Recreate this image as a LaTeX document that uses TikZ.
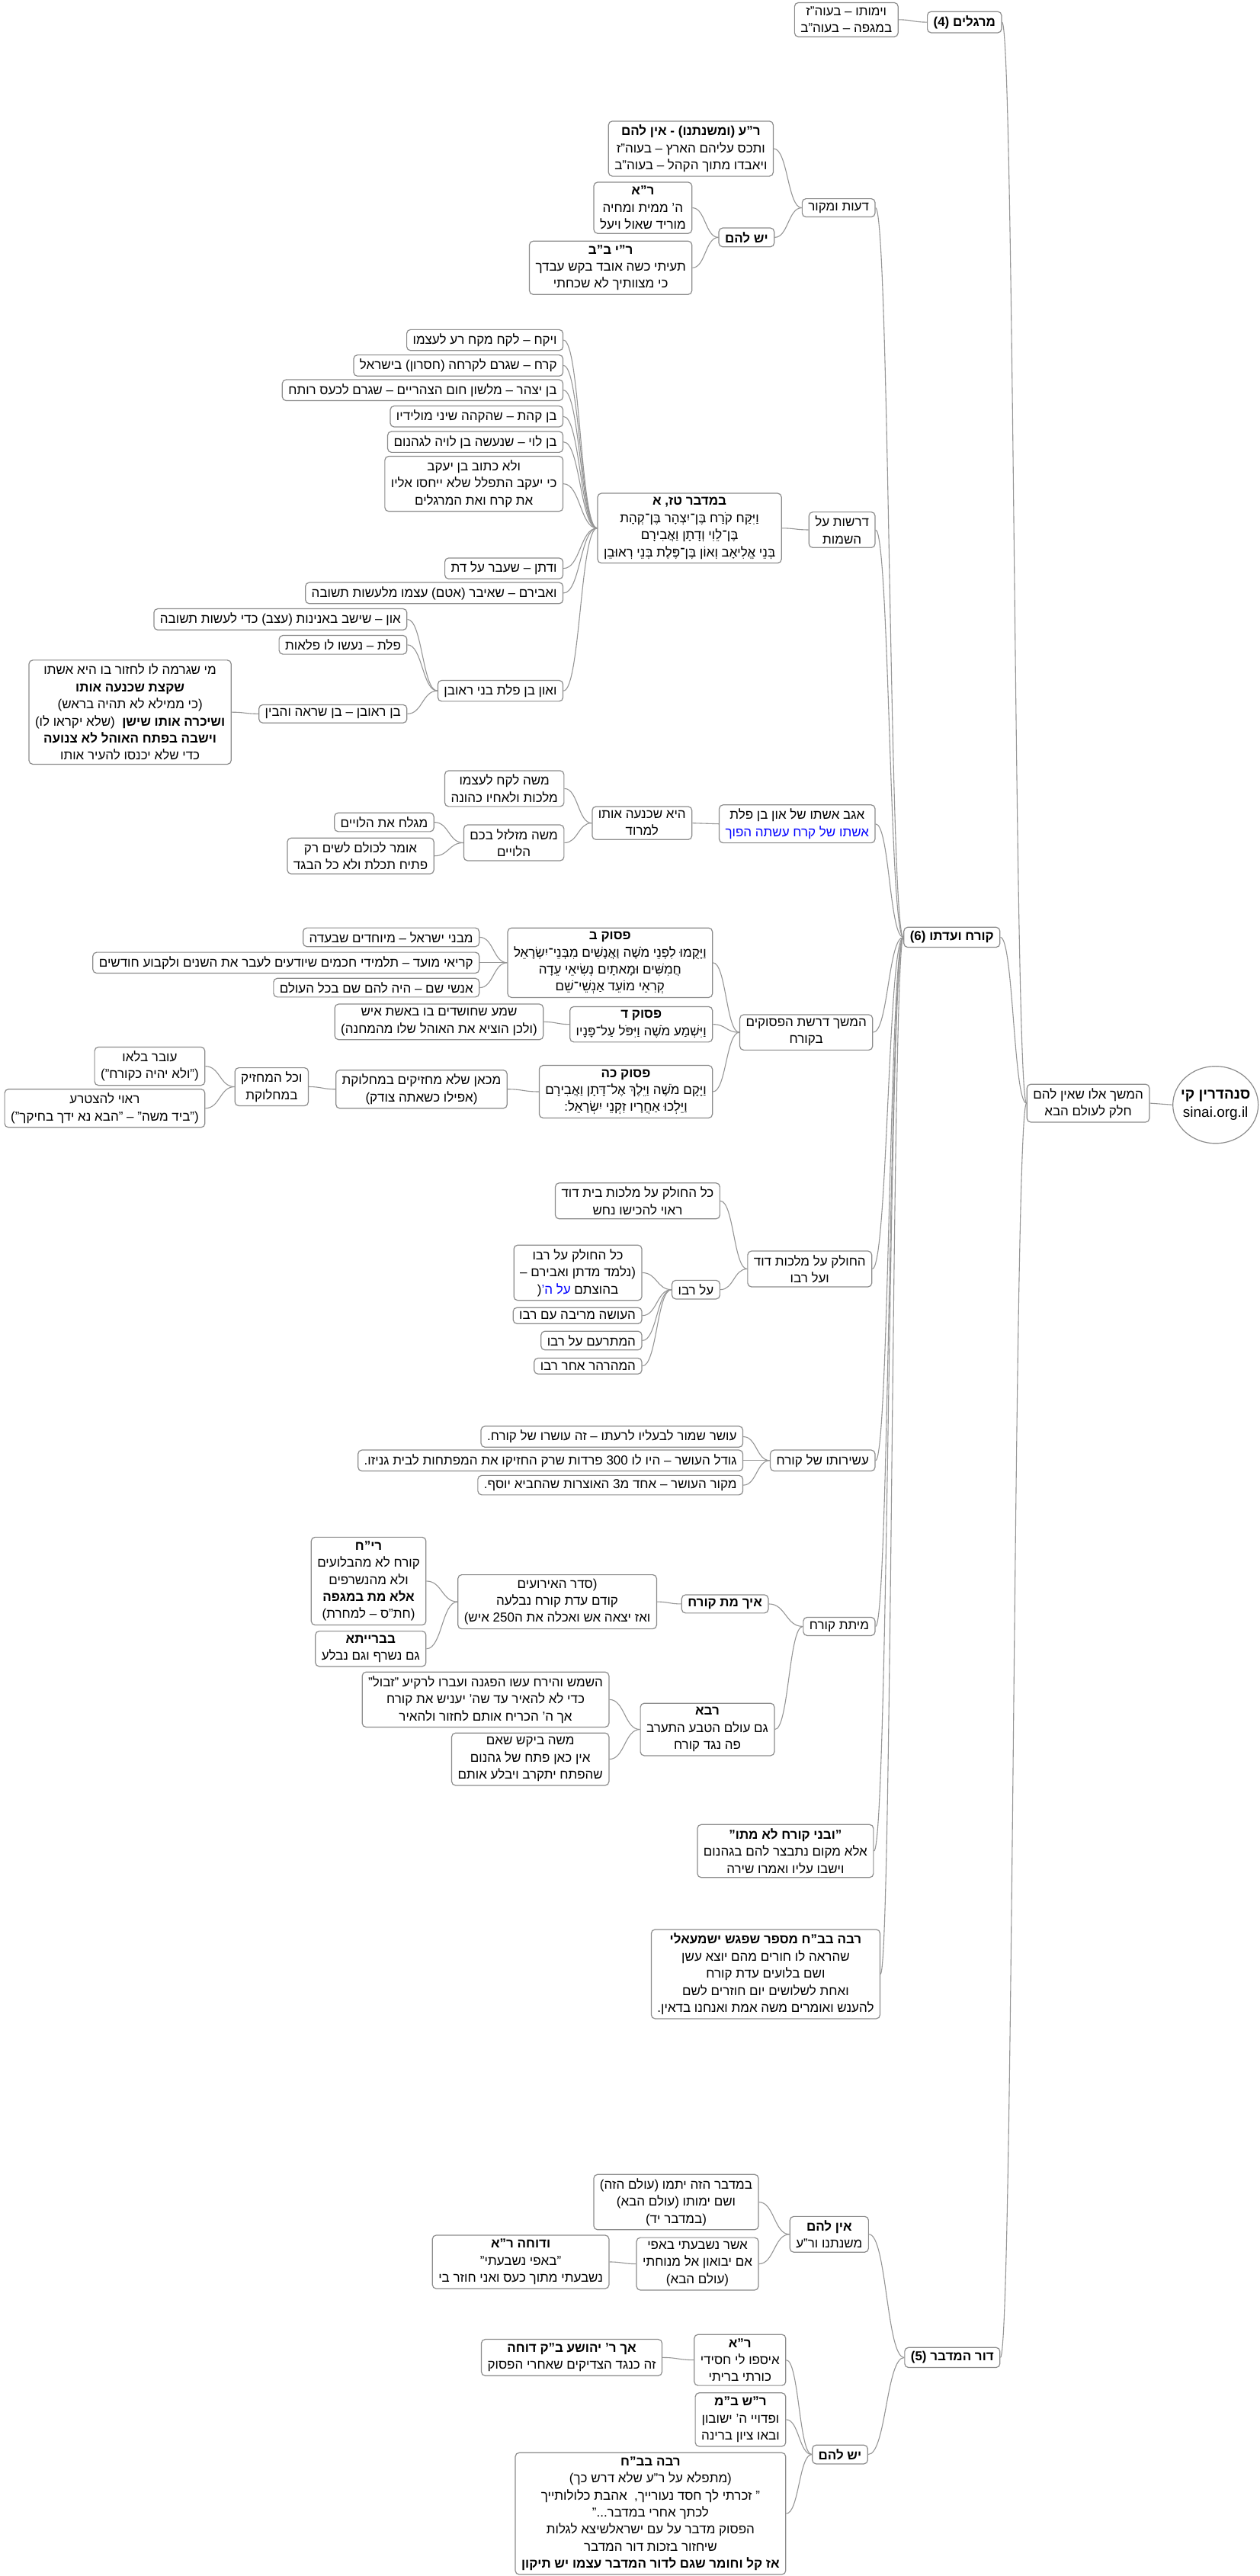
\documentclass[tikz,border=0pt]{standalone}
\usepackage{fontspec}
\setmainfont{Liberation Sans}[Script=Hebrew]
\TeXXeTstate=1
\usetikzlibrary{calc}
\definecolor{boxgray}{RGB}{140,140,140}
\definecolor{linkgray}{RGB}{150,150,150}
\definecolor{hblue}{RGB}{0,0,255}
\newcommand\HL[1]{\beginR#1\endR}
\newcommand\conn[2]{\draw[link] let \p1=(#1.east), \p2=(#2.west), \n1={0.5*(\x2-\x1)} in (\p1) .. controls +(\n1,0pt) and +(-\n1,0pt) .. (\p2);}
\tikzset{
  box/.style={draw=boxgray, line width=0.6pt, rounded corners=2.5pt, inner xsep=4pt, inner ysep=2.6pt, align=center, anchor=east, font=\fontsize{8.5}{11.2}\selectfont},
  bbox/.style={box, font=\fontsize{8.5}{11.2}\selectfont\bfseries},
  link/.style={draw=linkgray, line width=0.55pt}
}
\begin{document}
\begin{tikzpicture}[x=1.0776pt,y=-1.0776pt]
\useasboundingbox (0,0) rectangle (767,1568);
\fill[white] (0,0) rectangle (767,1568);
% root and centre
\node[inner sep=0pt, minimum width=56pt, minimum height=50.6pt, align=center, font=\fontsize{9.5}{12}\selectfont] (root) at (740,672.5) {\HL{\textbf{סנהדרין קי}}\\sinai.org.il};
\draw[draw=boxgray, line width=0.6pt] (root.center) ellipse [x radius=28pt, y radius=25.3pt];
\node[box] (c) at (700,671.5) {\HL{המשך אלו שאין להם}\\\HL{חלק לעולם הבא}};
% main branches
\node[bbox] (m1) at (610,13.5) {\HL{מרגלים (4)}};
\node[box] (m1a) at (547,12) {\HL{וימותו – בעוה"ז}\\\HL{במגפה – בעוה"ב}};
\node[bbox] (m2) at (609,570.5) {\HL{קורח ועדתו (6)}};
\node[bbox] (m3) at (609,1435) {\HL{דור המדבר (5)}};
% K1
\node[box] (k1) at (533,126.5) {\HL{דעות ומקור}};
\node[box] (k1a) at (471,90.5) {\HL{\textbf{ר"ע (ומשנתנו) - אין להם}}\\\HL{ותכס עליהם הארץ – בעוה"ז}\\\HL{ויאבדו מתוך הקהל – בעוה"ב}};
\node[bbox] (k1b) at (471.6,144.5) {\HL{יש להם}};
\node[box] (k1b1) at (421.5,126.5) {\HL{\textbf{ר"א}}\\\HL{ה' ממית ומחיה}\\\HL{מוריד שאול ויעל}};
\node[box] (k1b2) at (421.5,163) {\HL{\textbf{ר"י ב"ב}}\\\HL{תעיתי כשה אובד בקש עבדך}\\\HL{כי מצוותיך לא שכחתי}};
% K2
\node[box] (k2) at (533,322.5) {\HL{דרשות על}\\\HL{השמות}};
\node[box] (k2a) at (476,321.5) {\HL{\textbf{במדבר טז, א}}\\\HL{וַיִּקַּח קֹרַח בֶּן־יִצְהָר בֶּן־קְהָת}\\\HL{בֶּן־לֵוִי וְדָתָן וַאֲבִירָם}\\\HL{בְּנֵי אֱלִיאָב וְאוֹן בֶּן־פֶּלֶת בְּנֵי רְאוּבֵן}};
\node[box] (n1) at (343,207) {\HL{ויקח – לקח מקח רע לעצמו}};
\node[box] (n2) at (343,222.5) {\HL{קרח – שגרם לקרחה (חסרון) בישראל}};
\node[box] (n3) at (343,237.5) {\HL{בן יצהר – מלשון חום הצהריים – שגרם לכעס רותח}};
\node[box] (n4) at (343,253.5) {\HL{בן קהת – שהקהה שיני מולידיו}};
\node[box] (n5) at (343,269) {\HL{בן לוי – שנעשה בן לויה לגהנום}};
\node[box] (n6) at (343,294.5) {\HL{ולא כתוב בן יעקב}\\\HL{כי יעקב התפלל שלא ייחסו אליו}\\\HL{את קרח ואת המרגלים}};
\node[box] (n7) at (343,346) {\HL{ודתן – שעבר על דת}};
\node[box] (n8) at (343,361) {\HL{ואבירם – שאיבר (אטם) עצמו מלעשות תשובה}};
\node[box] (n9) at (343,420.5) {\HL{ואון בן פלת בני ראובן}};
\node[box] (n9a) at (248,377) {\HL{און – שישב באנינות (עצב) כדי לעשות תשובה}};
\node[box] (n9b) at (248,392.5) {\HL{פלת – נעשו לו פלאות}};
\node[box] (n9c) at (248,434.5) {\HL{בן ראובן – בן שראה והבין}};
\node[box] (n9c1) at (141,433.5) {\HL{מי שגרמה לו לחזור בו היא אשתו}\\\HL{\textbf{שקצת שכנעה אותו}}\\\HL{(כי ממילא לא תהיה בראש)}\\\HL{\textbf{ושיכרה אותו שישן}\ \ (שלא יקראו לו)}\\\HL{\textbf{וישבה בפתח האוהל לא צנועה}}\\\HL{כדי שלא יכנסו להעיר אותו}};
% K3
\node[box] (k3) at (533,501.5) {\HL{אגב אשתו של און בן פלת}\\\textcolor{hblue}{\HL{אשתו של קרח עשתה הפוך}}};
\node[box] (k3a) at (421.5,501) {\HL{היא שכנעה אותו}\\\HL{למרוד}};
\node[box] (k3a1) at (343.6,480) {\HL{משה לקח לעצמו}\\\HL{מלכות ולאחיו כהונה}};
\node[box] (k3a2) at (343.6,513) {\HL{משה מזלזל בכם}\\\HL{הלויים}};
\node[box] (k3a2a) at (264.4,500.5) {\HL{מגלח את הלויים}};
\node[box] (k3a2b) at (264.4,521) {\HL{אומר לכולם לשים רק}\\\HL{פתיח תכלת ולא כל הבגד}};
% K4
\node[box] (k4) at (531.5,628.4) {\HL{המשך דרשת הפסוקים}\\\HL{בקורח}};
\node[box] (k4a) at (434,586) {\HL{\textbf{פסוק ב}}\\\HL{וַיָּקֻמוּ לִפְנֵי מֹשֶׁה וַאֲנָשִׁים מִבְּנֵי־יִשְׂרָאֵל}\\\HL{חֲמִשִּׁים וּמָאתָיִם נְשִׂיאֵי עֵדָה}\\\HL{קְרִאֵי מוֹעֵד אַנְשֵׁי־שֵׁם}};
\node[box] (k4a1) at (292,570.5) {\HL{מבני ישראל – מיוחדים שבעדה}};
\node[box] (k4a2) at (292,586) {\HL{קריאי מועד – תלמידי חכמים שיודעים לעבר את השנים ולקבוע חודשים}};
\node[box] (k4a3) at (292,601.2) {\HL{אנשי שם – היה להם שם בכל העולם}};
\node[box] (k4b) at (434,623.5) {\HL{\textbf{פסוק ד}}\\\HL{וַיִּשְׁמַע מֹשֶׁה וַיִּפֹּל עַל־פָּנָיו}};
\node[box] (k4b1) at (331,622) {\HL{שמע שחושדים בו באשת איש}\\\HL{(ולכן הוציא את האוהל שלו מהמחנה)}};
\node[box] (k4c) at (434,664.5) {\HL{\textbf{פסוק כה}}\\\HL{וַיָּקָם מֹשֶׁה וַיֵּלֶךְ אֶל־דָּתָן וַאֲבִירָם}\\\HL{וַיֵּלְכוּ אַחֲרָיו זִקְנֵי יִשְׂרָאֵל:}};
\node[box] (k4c1) at (309,663) {\HL{מכאן שלא מחזיקים במחלוקת}\\\HL{(אפילו כשאתה צודק)}};
\node[box] (k4c2) at (188,661.5) {\HL{וכל המחזיק}\\\HL{במחלוקת}};
\node[box] (k4c2a) at (125,649) {\HL{עובר בלאו}\\\HL{("ולא יהיה כקורח")}};
\node[box] (k4c2b) at (125,674.6) {\HL{ראוי להצטרע}\\\HL{("ביד משה" – "הבא נא ידך בחיקך")}};
% K5
\node[box] (k5) at (531,772.4) {\HL{החולק על מלכות דוד}\\\HL{ועל רבו}};
\node[box] (k5a) at (438.5,731) {\HL{כל החולק על מלכות בית דוד}\\\HL{ראוי להכישו נחש}};
\node[box] (k5b) at (438.5,785) {\HL{על רבו}};
\node[box] (k5b1) at (391,774.7) {\HL{כל החולק על רבו}\\\HL{(נלמד מדתן ואבירם –}\\(\textcolor{hblue}{\HL{על ה'}}\ \HL{בהוצתם}};
\node[box] (k5b2) at (391,800.8) {\HL{העושה מריבה עם רבו}};
\node[box] (k5b3) at (391,816) {\HL{המתרעם על רבו}};
\node[box] (k5b4) at (391,831.5) {\HL{המהרהר אחר רבו}};
% K6
\node[box] (k6) at (533,889) {\HL{עשירותו של קורח}};
\node[box] (k6a) at (452.5,874.5) {\HL{עושר שמור לבעליו לרעתו – זה עושרו של קורח.}};
\node[box] (k6b) at (452.5,889) {\HL{גודל העושר – היו לו 300 פרדות שרק החזיקו את המפתחות לבית גניזו.}};
\node[box] (k6c) at (452.5,904) {\HL{מקור העושר – אחד מ3 האוצרות שהחביא יוסף.}};
% K7
\node[box] (k7) at (533,990) {\HL{מיתת קורח}};
\node[bbox] (k7a) at (468,976.3) {\HL{איך מת קורח}};
\node[box] (k7a1) at (400,975) {\HL{(סדר האירועים}\\\HL{קודם עדת קורח נבלעה}\\\HL{ואז יצאה אש ואכלה את ה250 איש)}};
\node[box] (k7a1a) at (259.6,962.4) {\HL{\textbf{רי"ח}}\\\HL{קורח לא מהבלועים}\\\HL{ולא מהנשרפים}\\\HL{\textbf{אלא מת במגפה}}\\\HL{(חת"ס – למחרת)}};
\node[box] (k7a1b) at (259.6,1003.6) {\HL{\textbf{בברייתא}}\\\HL{גם נשרף וגם נבלע}};
\node[box] (k7b) at (471.7,1052.7) {\HL{\textbf{רבא}}\\\HL{גם עולם הטבע התערב}\\\HL{פה נגד קורח}};
\node[box] (k7b1) at (371,1034.5) {\HL{השמש והירח עשו הפגנה ועברו לרקיע "זבול"}\\\HL{כדי לא להאיר עד שה' יעניש את קורח}\\\HL{אך ה' הכריח אותם לחזור ולהאיר}};
\node[box] (k7b2) at (371,1070.8) {\HL{משה ביקש שאם}\\\HL{אין כאן פתח של גהנום}\\\HL{שהפתח יתקרב ויבלע אותם}};
% K8, K9
\node[box] (k8) at (532,1126.7) {\HL{\textbf{"ובני קורח לא מתו"}}\\\HL{אלא מקום נתבצר להם בגהנום}\\\HL{וישבו עליו ואמרו שירה}};
\node[box] (k9) at (536,1201.6) {\HL{\textbf{רבה בב"ח מספר שפגש ישמעאלי}}\\\HL{שהראה לו חורים מהם יוצא עשן}\\\HL{ושם בלועים עדת קורח}\\\HL{ואחת לשלושים יום חוזרים לשם}\\\HL{להענש ואומרים משה אמת ואנחנו בדאין.}};
% D
\node[box] (d1) at (529,1360) {\HL{\textbf{אין להם}}\\\HL{משנתנו ור"ע}};
\node[box] (d1a) at (462,1340.4) {\HL{במדבר הזה יתמו (עולם הזה)}\\\HL{ושם ימותו (עולם הבא)}\\\HL{(במדבר יד)}};
\node[box] (d1b) at (462,1378) {\HL{אשר נשבעתי באפי}\\\HL{אם יבואון אל מנוחתי}\\\HL{(עולם הבא)}};
\node[box] (d1b1) at (371,1376.8) {\HL{\textbf{ודוחה ר"א}}\\\HL{"באפי נשבעתי"}\\\HL{נשבעתי מתוך כעס ואני חוזר בי}};
\node[bbox] (d2) at (528.5,1494) {\HL{יש להם}};
\node[box] (d2a) at (478.6,1436.5) {\HL{\textbf{ר"א}}\\\HL{איספו לי חסידי}\\\HL{כורתי בריתי}};
\node[box] (d2a1) at (403.3,1435) {\HL{\textbf{אך ר' יהושע ב"ק דוחה}}\\\HL{זה כנגד הצדיקים שאחרי הפסוק}};
\node[box] (d2b) at (478.6,1472.8) {\HL{\textbf{ר"ש ב"מ}}\\\HL{ופדויי ה' ישובון}\\\HL{ובאו ציון ברינה}};
\node[box] (d2c) at (478.6,1530) {\HL{\textbf{רבה בב"ח}}\\\HL{(מתפלא על ר"ע שלא דרש כך)}\\\HL{" זכרתי לך חסד נעורייך,\ \ אהבת כלולותייך}\\\HL{לכתך אחרי במדבר..."}\\\HL{הפסוק מדבר על עם ישראלשיצא לגלות}\\\HL{שיחזור בזכות דור המדבר}\\\HL{\textbf{אז קל וחומר שגם לדור המדבר עצמו יש תיקון}}};
% connectors
\draw[link] (c.east) -- (root.west);
\conn{m1}{c}\conn{m2}{c}\conn{m3}{c}
\conn{m1a}{m1}
\conn{k1}{m2}\conn{k2}{m2}\conn{k3}{m2}\conn{k4}{m2}\conn{k5}{m2}\conn{k6}{m2}\conn{k7}{m2}\conn{k8}{m2}\conn{k9}{m2}
\conn{k1a}{k1}\conn{k1b}{k1}\conn{k1b1}{k1b}\conn{k1b2}{k1b}
\conn{k2a}{k2}
\conn{n1}{k2a}\conn{n2}{k2a}\conn{n3}{k2a}\conn{n4}{k2a}\conn{n5}{k2a}\conn{n6}{k2a}\conn{n7}{k2a}\conn{n8}{k2a}\conn{n9}{k2a}
\conn{n9a}{n9}\conn{n9b}{n9}\conn{n9c}{n9}\conn{n9c1}{n9c}
\conn{k3a}{k3}\conn{k3a1}{k3a}\conn{k3a2}{k3a}\conn{k3a2a}{k3a2}\conn{k3a2b}{k3a2}
\conn{k4a}{k4}\conn{k4b}{k4}\conn{k4c}{k4}
\conn{k4a1}{k4a}\conn{k4a2}{k4a}\conn{k4a3}{k4a}\conn{k4b1}{k4b}\conn{k4c1}{k4c}\conn{k4c2}{k4c1}\conn{k4c2a}{k4c2}\conn{k4c2b}{k4c2}
\conn{k5a}{k5}\conn{k5b}{k5}\conn{k5b1}{k5b}\conn{k5b2}{k5b}\conn{k5b3}{k5b}\conn{k5b4}{k5b}
\conn{k6a}{k6}\conn{k6b}{k6}\conn{k6c}{k6}
\conn{k7a}{k7}\conn{k7b}{k7}\conn{k7a1}{k7a}\conn{k7a1a}{k7a1}\conn{k7a1b}{k7a1}\conn{k7b1}{k7b}\conn{k7b2}{k7b}
\conn{d1}{m3}\conn{d2}{m3}\conn{d1a}{d1}\conn{d1b}{d1}\conn{d1b1}{d1b}
\conn{d2a}{d2}\conn{d2b}{d2}\conn{d2c}{d2}\conn{d2a1}{d2a}
\end{tikzpicture}
\end{document}
